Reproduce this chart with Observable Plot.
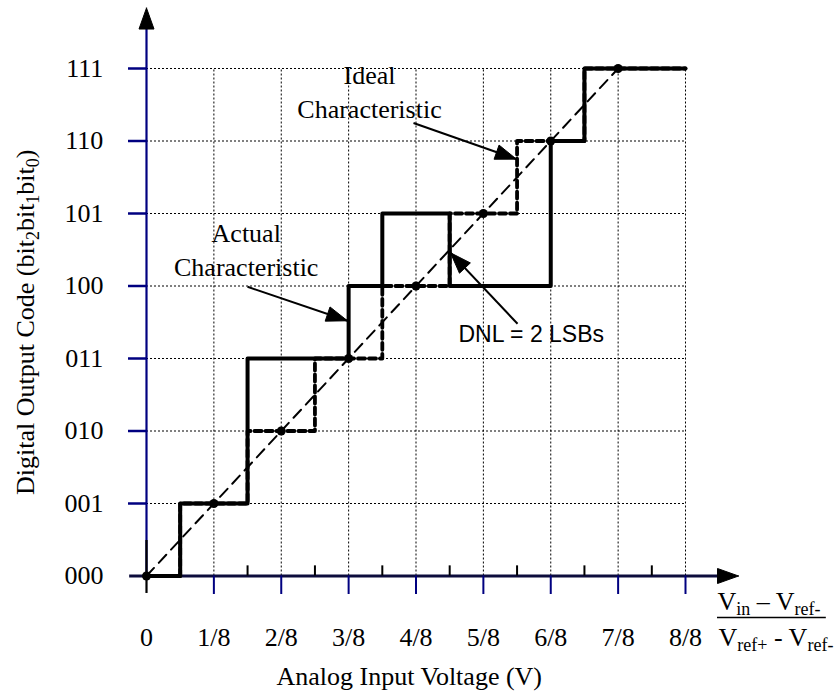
<!DOCTYPE html>
<html><head><meta charset="utf-8">
<script src="https://cdn.jsdelivr.net/npm/d3@7"></script>
<script src="https://cdn.jsdelivr.net/npm/@observablehq/plot@0.6"></script>
<style>body{margin:0;background:#fff} #chart svg{display:block}</style>
</head><body><div id="chart"></div>
<script>
// ---- data ----
const codeLabels = ["000","001","010","011","100","101","110","111"];
const codeValues = [0,1,2,3,4,5,6,7];
const xTickLabels = ["0","1/8","2/8","3/8","4/8","5/8","6/8","7/8","8/8"];
const xTickValues = [0,1,2,3,4,5,6,7,8];
const halfTicks = [0.5,1.5,2.5,3.5,4.5,5.5,6.5,7.5];
const idealX = [0,0.5,1.5,2.5,3.5,4.5,5.5,6.5,8];
const idealY = [0,1,2,3,4,5,6,7,7];
const actualX = [0,0.5,1.5,3,3.5,4.5,6,6.5,8];
const actualY = [0,1,3,4,5,4,6,7,7];
const midX = [0,1,2,3,4,5,6,7];
const midY = [0,1,2,3,4,5,6,7];

// ---- layout ----
const W = 834, H = 694, ML = 146, MR = 149, MT = 68, MB = 118.5;
const kx = (W - ML - MR) / 8, ky = (H - MT - MB) / 7;
const navy = "#000080", axisDark = "#0c0c3c";
const serif = "Liberation Serif, Times New Roman, serif";
const FS = 26;

// annotation arrows (data units)
const annotArrows = [
  {x1: 3.963, y1: 6.249, x2: 5.49, y2: 5.75},
  {x1: 1.499, y1: 3.989, x2: 2.983, y2: 3.52},
  {x1: 5.507, y1: 3.479, x2: 4.512, y2: 4.458}
];
const axisArrows = [
  {x1: 0, y1: 0, x2: 0, y2: 7.834},
  {x1: 0, y1: 0, x2: 8.787, y2: 0}
];
function headPoly(a, id, len, hw) {
  const dx = (a.x2 - a.x1) * kx, dy = -(a.y2 - a.y1) * ky;
  const L = Math.hypot(dx, dy), ux = dx / L, uy = dy / L;
  const nx = -uy, ny = ux;
  const pts = [[0, 0], [-ux * len + nx * hw, -uy * len + ny * hw], [-ux * len - nx * hw, -uy * len - ny * hw], [0, 0]];
  return pts.map(([px, py]) => ({id, x: a.x2 + px / kx, y: a.y2 - py / ky}));
}
const heads = [
  ...annotArrows.flatMap((a, i) => headPoly(a, "a" + i, 21, 7.5)),
  ...axisArrows.flatMap((a, i) => headPoly(a, "x" + i, 21, 7.5))
];

const labels = [
  {x: 3.31, y: 6.79, t: "Ideal"},
  {x: 3.31, y: 6.32, t: "Characteristic"},
  {x: 1.48, y: 4.61, t: "Actual"},
  {x: 1.48, y: 4.14, t: "Characteristic"}
];

const ideal = idealX.map((x, i) => ({x, y: idealY[i]}));
const actual = actualX.map((x, i) => ({x, y: actualY[i]}));
const mids = midX.map((x, i) => ({x, y: midY[i]}));

const svg = Plot.plot({
  width: W, height: H,
  marginLeft: ML, marginRight: MR, marginTop: MT, marginBottom: MB,
  x: {domain: [0, 8], axis: null},
  y: {domain: [0, 7], axis: null},
  style: {background: "white", color: "black", fontFamily: serif},
  marks: [
    // grid
    Plot.ruleX([1,2,3,4,5,6,7,8], {y1: 0, y2: 7, stroke: "black", strokeWidth: 1, strokeDasharray: "2,2"}),
    Plot.ruleY([1,2,3,4,5,6,7], {x1: 0, x2: 8, stroke: "black", strokeWidth: 1, strokeDasharray: "2,2"}),
    // y axis
    Plot.ruleX([0], {y1: 0, y2: 7.56, stroke: navy, strokeWidth: 2.2}),
    Plot.ruleX([0], {y1: -0.241, y2: 0.49, stroke: "black", strokeWidth: 2.2}),
    Plot.ruleY(codeValues.slice(1), {x1: -0.267, x2: 0, stroke: navy, strokeWidth: 2.5}),
    // x axis
    Plot.ruleY([0], {x1: -0.25, x2: 8.48, stroke: axisDark, strokeWidth: 3}),
    Plot.ruleX(xTickValues.slice(1), {y1: -0.255, y2: 0, stroke: navy, strokeWidth: 2}),
    Plot.ruleX(halfTicks, {y1: 0, y2: 0.14, stroke: "black", strokeWidth: 2}),
    // diagonal
    Plot.line([{x: 0, y: 0}, {x: 7, y: 7}], {x: "x", y: "y", stroke: "black", strokeWidth: 2, strokeDasharray: "11,7"}),
    // ideal & actual characteristics
    Plot.line(ideal, {x: "x", y: "y", curve: "step-after", stroke: "black", strokeWidth: 3.8, strokeDasharray: "7,4"}),
    Plot.line(actual, {x: "x", y: "y", curve: "step-after", stroke: "black", strokeWidth: 4}),
    Plot.dot(mids, {x: "x", y: "y", r: 4.5, fill: "black"}),
    // arrows
    Plot.link(annotArrows, {x1: "x1", y1: "y1", x2: "x2", y2: "y2", stroke: "black", strokeWidth: 2}),
    Plot.line(heads, {x: "x", y: "y", z: "id", fill: "black", stroke: "black", strokeWidth: 1}),
    // tick labels
    Plot.text(codeLabels, {x: -0.64, y: (d, i) => codeValues[i], text: d => d, textAnchor: "end", fontSize: FS, fontFamily: serif}),
    Plot.text(xTickLabels, {x: (d, i) => xTickValues[i], y: -0.85, text: d => d, fontSize: FS, fontFamily: serif}),
    // titles
    Plot.text(["Analog Input Voltage (V)"], {x: 3.9, y: -1.51, text: d => d, lineAnchor: "bottom", fontSize: FS, fontFamily: serif}),
    Plot.text(["Digital Output Code (bit_{2}bit_{1}bit_{0})"], {x: -1.80, y: 3.5, text: d => d, rotate: -90, fontSize: FS, fontFamily: serif}),
    Plot.text(["V_{in} – V_{ref-}"], {x: 8.475, y: -0.475, text: d => d, textAnchor: "start", lineAnchor: "bottom", fontSize: FS, fontFamily: serif}),
    Plot.text(["V_{ref+} - V_{ref-}"], {x: 8.49, y: -0.965, text: d => d, textAnchor: "start", lineAnchor: "bottom", fontSize: FS, fontFamily: serif}),
    Plot.ruleY([-0.572], {x1: 8.475, x2: 10.09, stroke: "black", strokeWidth: 1.5}),
    // annotations
    Plot.text(labels, {x: "x", y: "y", text: "t", lineAnchor: "bottom", fontSize: FS, fontFamily: serif}),
    Plot.text(["DNL = 2 LSBs"], {x: 4.631, y: 3.231, text: d => d, textAnchor: "start", lineAnchor: "bottom", fontSize: 23, fontFamily: "Liberation Sans, Arial, sans-serif"})
  ]
});

function addSpan(t, str, sub) {
  const ts = document.createElementNS("http://www.w3.org/2000/svg", "tspan");
  ts.textContent = str;
  if (sub) {
    ts.setAttribute("font-size", "18");
    ts.setAttribute("baseline-shift", "-5");
  }
  t.appendChild(ts);
}
svg.querySelectorAll("text").forEach(t => {
  const s = t.textContent;
  if (!s.includes("_{")) return;
  t.textContent = "";
  const re = /_\{([^}]*)\}/g;
  let last = 0, m;
  while ((m = re.exec(s))) {
    if (m.index > last) addSpan(t, s.slice(last, m.index), false);
    addSpan(t, m[1], true);
    last = re.lastIndex;
  }
  if (last < s.length) addSpan(t, s.slice(last), false);
});

document.getElementById("chart").appendChild(svg);
</script>
</body></html>
